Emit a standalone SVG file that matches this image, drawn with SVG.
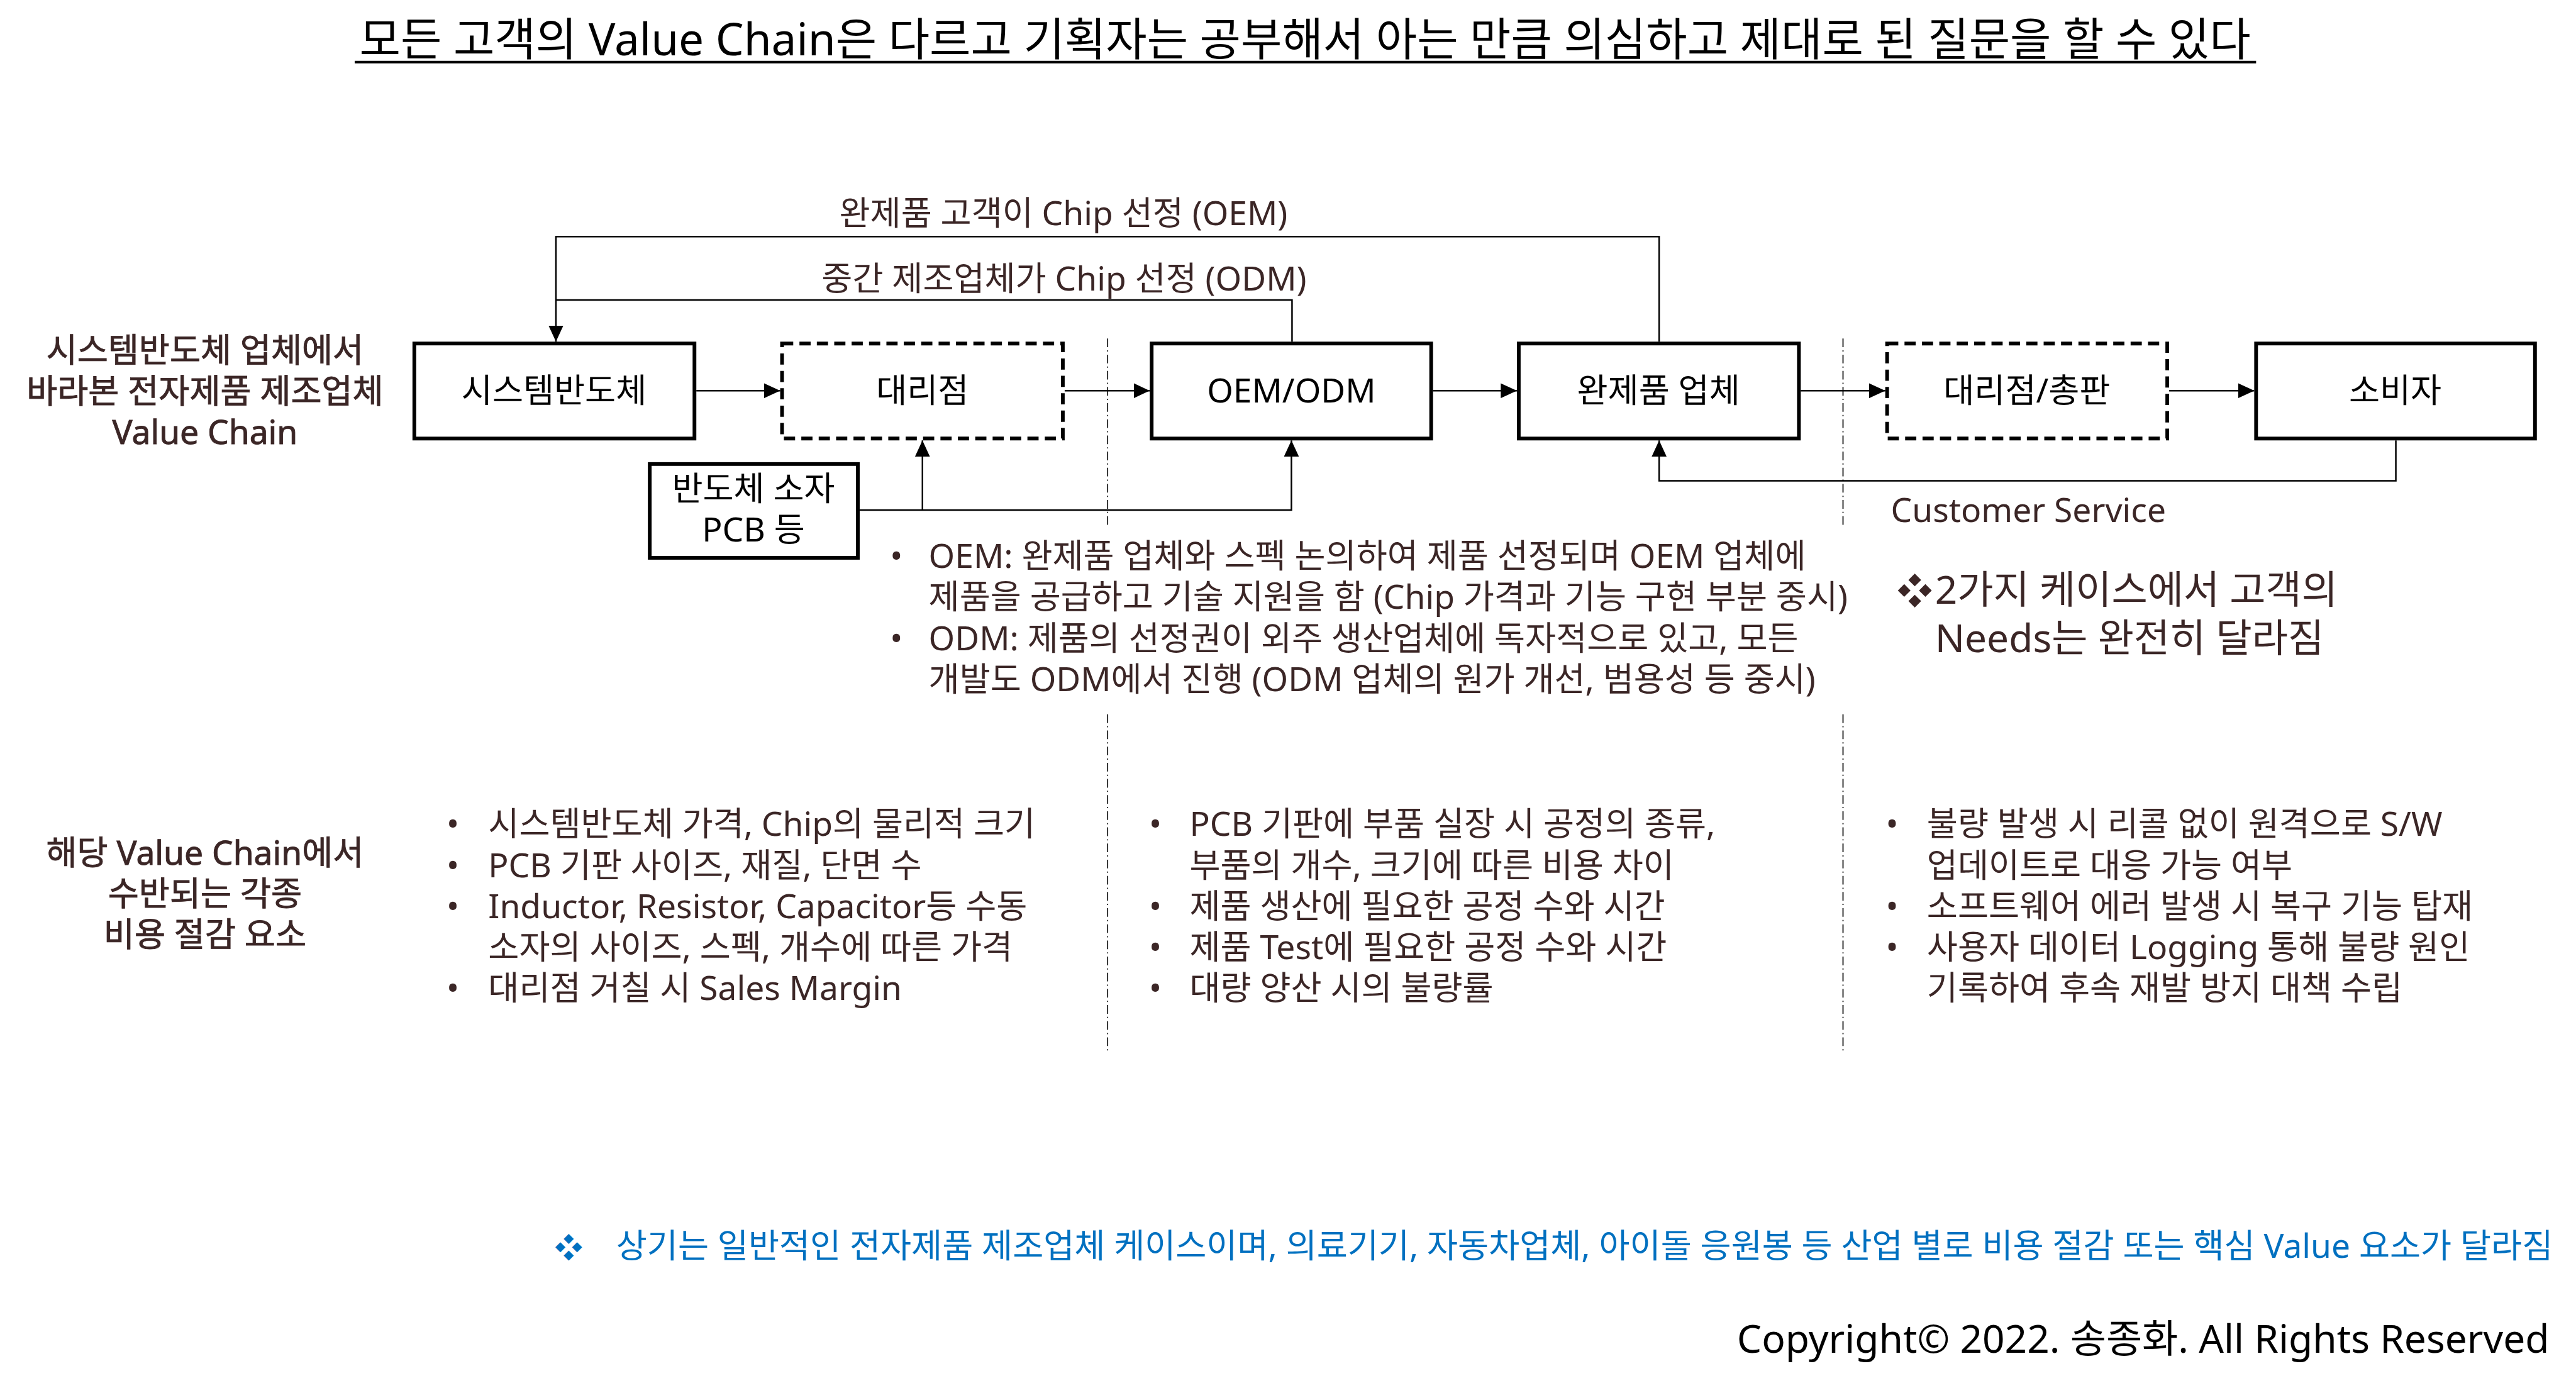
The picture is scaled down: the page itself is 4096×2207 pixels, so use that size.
<svg xmlns="http://www.w3.org/2000/svg" width="4096" height="2207" viewBox="0 0 4096 2207">
<defs>
<style>
.t{font-family:"Noto Sans","Noto Sans CJK KR",sans-serif;font-size:54px;fill:#3b2626}
.k{fill:#000}
.c{text-anchor:middle}
.m{stroke:#3b2626;stroke-width:0.9px}
.box{fill:#fff;stroke:#000;stroke-width:6}
.dash{stroke-dasharray:18 10}
.conn{fill:none;stroke:#000;stroke-width:2.5}
.sep{fill:none;stroke:#333;stroke-width:2;stroke-dasharray:14 5 2 5}
.blue{fill:#0070c0}
</style>
<marker id="ah" markerUnits="userSpaceOnUse" markerWidth="26" markerHeight="24" refX="26" refY="12" orient="auto">
<path d="M0,0 L26,12 L0,24 z" fill="#000"/>
</marker>
</defs>
<rect width="4096" height="2207" fill="#fff"/>
<g transform="scale(0.9877)">
<g id="title">
<text class="t k c" x="2101" y="89" style="font-size:72px">모든 고객의 Value Chain은 다르고 기획자는 공부해서 아는 만큼 의심하고 제대로 된 질문을 할 수 있다</text>
<line x1="571" y1="100" x2="3632" y2="100" stroke="#000" stroke-width="4"/>
</g>
<g id="separators">
<path class="sep" d="M1783,545 V848 M1783,1150 V1696 M2967,545 V848 M2967,1150 V1696"/>
</g>
<g id="connectors">
<path class="conn" d="M1121,629 H1256" marker-end="url(#ah)"/>
<path class="conn" d="M1714,629 H1851" marker-end="url(#ah)"/>
<path class="conn" d="M2307,629 H2442" marker-end="url(#ah)"/>
<path class="conn" d="M2899,629 H3035" marker-end="url(#ah)"/>
<path class="conn" d="M3492,629 H3629" marker-end="url(#ah)"/>
<path class="conn" d="M2671,550 V381 H895 V550" marker-end="url(#ah)"/>
<path class="conn" d="M2080,550 V483 H895"/>
<path class="conn" d="M1384,821 H2079 V709" marker-end="url(#ah)"/>
<path class="conn" d="M1485,821 V709" marker-end="url(#ah)"/>
<path class="conn" d="M3857,709 V774 H2671 V709" marker-end="url(#ah)"/>
<text class="t c" x="1712" y="362">완제품 고객이 Chip 선정 (OEM)</text>
<text class="t c" x="1713" y="468">중간 제조업체가 Chip 선정 (ODM)</text>
<text class="t" x="3044" y="840">Customer Service</text>
</g>
<g id="label-vc">
<text class="t c m" x="330" y="583">시스템반도체 업체에서</text>
<text class="t c m" x="330" y="649">바라본 전자제품 제조업체</text>
<text class="t c m" x="330" y="715">Value Chain</text>
</g>
<g id="n-semi">
<rect class="box" x="667" y="553" width="451" height="153"/>
<text class="t k c" x="892" y="648">시스템반도체</text>
</g>
<g id="n-agency">
<rect class="box dash" x="1259" y="553" width="452" height="153"/>
<text class="t k c" x="1485" y="648">대리점</text>
</g>
<g id="n-oem">
<rect class="box" x="1854" y="553" width="450" height="153"/>
<text class="t k c" x="2079" y="648">OEM/ODM</text>
</g>
<g id="n-maker">
<rect class="box" x="2445" y="553" width="451" height="153"/>
<text class="t k c" x="2670" y="648">완제품 업체</text>
</g>
<g id="n-dist">
<rect class="box dash" x="3038" y="553" width="451" height="153"/>
<text class="t k c" x="3263" y="648">대리점/총판</text>
</g>
<g id="n-consumer">
<rect class="box" x="3632" y="553" width="449" height="153"/>
<text class="t k c" x="3856" y="648">소비자</text>
</g>
<g id="n-parts">
<rect class="box" x="1046" y="747" width="335" height="151"/>
<text class="t k c" x="1213" y="806">반도체 소자</text>
<text class="t k c" x="1213" y="872">PCB 등</text>
</g>
<g id="notes-oem-odm">
<text class="t c" x="1443" y="914">•</text>
<text class="t" x="1495" y="914">OEM: 완제품 업체와 스펙 논의하여 제품 선정되며 OEM 업체에</text>
<text class="t" x="1495" y="980">제품을 공급하고 기술 지원을 함 (Chip 가격과 기능 구현 부분 중시)</text>
<text class="t c" x="1443" y="1047">•</text>
<text class="t" x="1495" y="1047">ODM: 제품의 선정권이 외주 생산업체에 독자적으로 있고, 모든</text>
<text class="t" x="1495" y="1113">개발도 ODM에서 진행 (ODM 업체의 원가 개선, 범용성 등 중시)</text>
</g>
<g id="note-needs">
<text class="t" x="3054" y="972" style="font-size:57px">❖</text>
<text class="t" x="3115" y="972" style="font-size:63px">2가지 케이스에서 고객의</text>
<text class="t" x="3115" y="1050" style="font-size:63px">Needs는 완전히 달라짐</text>
</g>
<g id="label-cost">
<text class="t c m" x="330" y="1392">해당 Value Chain에서</text>
<text class="t c m" x="330" y="1458">수반되는 각종</text>
<text class="t c m" x="330" y="1524">비용 절감 요소</text>
</g>
<g id="col1">
<text class="t c" x="729" y="1346">•</text>
<text class="t" x="786" y="1346">시스템반도체 가격, Chip의 물리적 크기</text>
<text class="t c" x="729" y="1412">•</text>
<text class="t" x="786" y="1412">PCB 기판 사이즈, 재질, 단면 수</text>
<text class="t c" x="729" y="1478">•</text>
<text class="t" x="786" y="1478">Inductor, Resistor, Capacitor등 수동</text>
<text class="t" x="786" y="1544">소자의 사이즈, 스펙, 개수에 따른 가격</text>
<text class="t c" x="729" y="1610">•</text>
<text class="t" x="786" y="1610">대리점 거칠 시 Sales Margin</text>
</g>
<g id="col2">
<text class="t c" x="1860" y="1346">•</text>
<text class="t" x="1915" y="1346">PCB 기판에 부품 실장 시 공정의 종류,</text>
<text class="t" x="1915" y="1412">부품의 개수, 크기에 따른 비용 차이</text>
<text class="t c" x="1860" y="1478">•</text>
<text class="t" x="1915" y="1478">제품 생산에 필요한 공정 수와 시간</text>
<text class="t c" x="1860" y="1544">•</text>
<text class="t" x="1915" y="1544">제품 Test에 필요한 공정 수와 시간</text>
<text class="t c" x="1860" y="1610">•</text>
<text class="t" x="1915" y="1610">대량 양산 시의 불량률</text>
</g>
<g id="col3">
<text class="t c" x="3046" y="1346">•</text>
<text class="t" x="3102" y="1346">불량 발생 시 리콜 없이 원격으로 S/W</text>
<text class="t" x="3102" y="1412">업데이트로 대응 가능 여부</text>
<text class="t c" x="3046" y="1478">•</text>
<text class="t" x="3102" y="1478">소프트웨어 에러 발생 시 복구 기능 탑재</text>
<text class="t c" x="3046" y="1544">•</text>
<text class="t" x="3102" y="1544">사용자 데이터 Logging 통해 불량 원인</text>
<text class="t" x="3102" y="1610">기록하여 후속 재발 방지 대책 수립</text>
</g>
<g id="footnote">
<text class="t blue" x="893" y="2025" style="font-size:45px">❖</text>
<text class="t blue" x="992" y="2025">상기는 일반적인 전자제품 제조업체 케이스이며, 의료기기, 자동차업체, 아이돌 응원봉 등 산업 별로 비용 절감 또는 핵심 Value 요소가 달라짐</text>
</g>
<g id="copyright">
<text class="t k" x="4104" y="2178" style="font-size:63px;text-anchor:end">Copyright© 2022. 송종화. All Rights Reserved</text>
</g>
</g>
</svg>
